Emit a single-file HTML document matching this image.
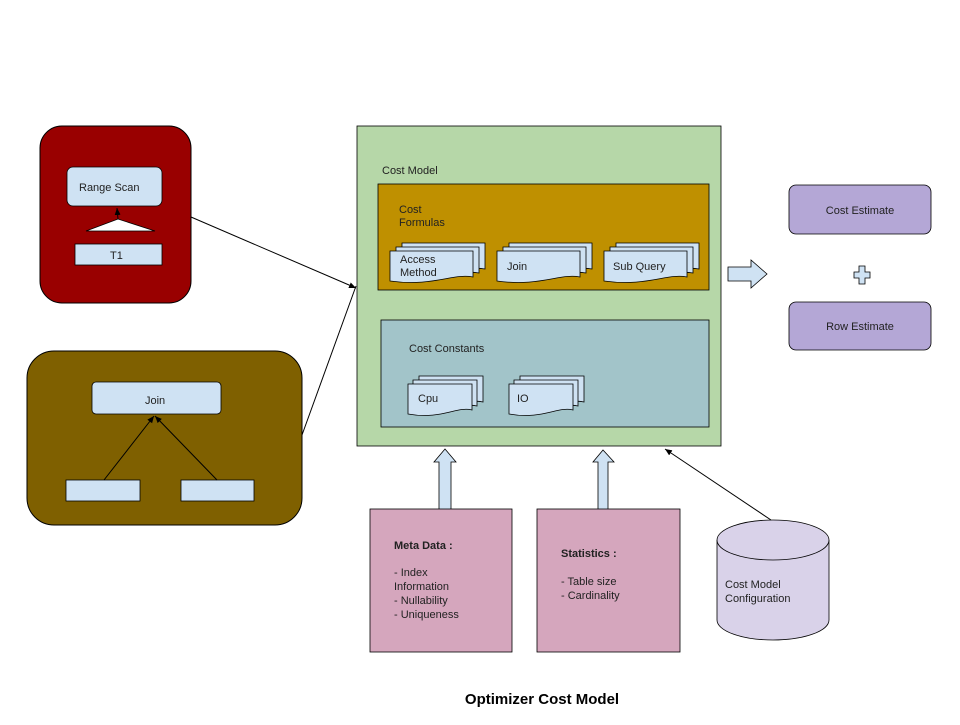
<!DOCTYPE html>
<html><head><meta charset="utf-8"><style>
body{margin:0;background:#fff;width:960px;height:720px;overflow:hidden}
text{font-family:"Liberation Sans",Arial,sans-serif;font-size:11px;fill:#222}
</style></head><body>
<svg width="960" height="720" viewBox="0 0 960 720" xmlns="http://www.w3.org/2000/svg">
<defs>
<marker id="ah" markerWidth="8" markerHeight="8" refX="7" refY="4" orient="auto" markerUnits="userSpaceOnUse">
<path d="M0,1 L7,4 L0,7 Z" fill="#000"/></marker>
<g id="docA">
<path d="M12,0 H95 V26 C75,22 55,34 12,28 Z" fill="#cfe2f3" stroke="#000" stroke-width="0.8"/>
<path d="M6,4 H89 V30 C69,26 49,38 6,32 Z" fill="#cfe2f3" stroke="#000" stroke-width="0.8"/>
<path d="M0,8 H83 V34 C63,30 43,44 0,38 Z" fill="#cfe2f3" stroke="#000" stroke-width="0.8"/>
</g>
<g id="docB">
<path d="M11,0 H75 V26 C60,22 44,34 11,28 Z" fill="#cfe2f3" stroke="#000" stroke-width="0.8"/>
<path d="M5,4 H69 V30 C54,26 38,38 5,32 Z" fill="#cfe2f3" stroke="#000" stroke-width="0.8"/>
<path d="M0,8 H64 V34 C49,30 33,44 0,38 Z" fill="#cfe2f3" stroke="#000" stroke-width="0.8"/>
</g>
</defs>
<rect x="40" y="126" width="151" height="177" rx="22" fill="#990000" stroke="#000" stroke-width="1"/>
<rect x="67" y="167" width="95" height="39" rx="6" fill="#cfe2f3" stroke="#000" stroke-width="0.8"/>
<text x="79" y="191">Range Scan</text>
<polygon points="86,231 155,231 118,219" fill="#fff" stroke="#000" stroke-width="0.8"/>
<line x1="118" y1="219" x2="117" y2="208" stroke="#000" stroke-width="1" marker-end="url(#ah)"/>
<rect x="75" y="244" width="87" height="21" fill="#cfe2f3" stroke="#000" stroke-width="0.8"/>
<text x="110" y="259">T1</text>
<rect x="27" y="351" width="275" height="174" rx="27" fill="#7f6000" stroke="#000" stroke-width="1"/>
<rect x="92" y="382" width="129" height="32" rx="4" fill="#cfe2f3" stroke="#000" stroke-width="0.8"/>
<text x="145" y="404">Join</text>
<rect x="66" y="480" width="74" height="21" fill="#cfe2f3" stroke="#000" stroke-width="0.8"/>
<rect x="181" y="480" width="73" height="21" fill="#cfe2f3" stroke="#000" stroke-width="0.8"/>
<line x1="104" y1="480" x2="154" y2="416" stroke="#000" stroke-width="1" marker-end="url(#ah)"/>
<line x1="217" y1="480" x2="155" y2="416" stroke="#000" stroke-width="1" marker-end="url(#ah)"/>
<line x1="191" y1="217" x2="356" y2="288" stroke="#000" stroke-width="1" marker-end="url(#ah)"/>
<line x1="302" y1="435" x2="356" y2="286" stroke="#000" stroke-width="1"/>
<rect x="357" y="126" width="364" height="320" fill="#b6d7a8" stroke="#000" stroke-width="0.8"/>
<text x="382" y="174">Cost Model</text>
<rect x="378" y="184" width="331" height="106" fill="#bf9000" stroke="#000" stroke-width="0.8"/>
<text x="399" y="213">Cost</text>
<text x="399" y="226">Formulas</text>
<use href="#docA" x="390" y="243"/>
<text x="400" y="263">Access</text><text x="400" y="276">Method</text>
<use href="#docA" x="497" y="243"/>
<text x="507" y="270">Join</text>
<use href="#docA" x="604" y="243"/>
<text x="613" y="270">Sub Query</text>
<rect x="381" y="320" width="328" height="107" fill="#a2c4c9" stroke="#000" stroke-width="0.8"/>
<text x="409" y="352">Cost Constants</text>
<use href="#docB" x="408" y="376"/>
<text x="418" y="402">Cpu</text>
<use href="#docB" x="509" y="376"/>
<text x="517" y="402">IO</text>
<polygon points="728,267 751,267 751,260 767,274 751,288 751,281 728,281" fill="#cfe2f3" stroke="#000" stroke-width="0.8"/>
<rect x="789" y="185" width="142" height="49" rx="7" fill="#b4a7d6" stroke="#000" stroke-width="0.8"/>
<text x="860" y="214" text-anchor="middle">Cost Estimate</text>
<polygon points="859,266 865,266 865,272 870,272 870,278 865,278 865,284 859,284 859,278 854,278 854,272 859,272" fill="#cfe2f3" stroke="#000" stroke-width="0.8"/>
<rect x="789" y="302" width="142" height="48" rx="7" fill="#b4a7d6" stroke="#000" stroke-width="0.8"/>
<text x="860" y="330" text-anchor="middle">Row Estimate</text>
<polygon points="439,511 439,462 434,462 445,449 456,462 451,462 451,511" fill="#cfe2f3" stroke="#000" stroke-width="0.8"/>
<polygon points="598,511 598,462 593,462 603,450 614,462 608,462 608,511" fill="#cfe2f3" stroke="#000" stroke-width="0.8"/>
<rect x="370" y="509" width="142" height="143" fill="#d5a6bd" stroke="#000" stroke-width="0.8"/>
<text x="394" y="549" font-weight="bold">Meta Data :</text>
<text x="394" y="576">- Index</text>
<text x="394" y="590">Information</text>
<text x="394" y="604">- Nullability</text>
<text x="394" y="618">- Uniqueness</text>
<rect x="537" y="509" width="143" height="143" fill="#d5a6bd" stroke="#000" stroke-width="0.8"/>
<text x="561" y="557" font-weight="bold">Statistics :</text>
<text x="561" y="585">- Table size</text>
<text x="561" y="599">- Cardinality</text>
<path d="M717,540 V620 A56,20 0 0 0 829,620 V540" fill="#d9d2e9" stroke="#000" stroke-width="0.8"/>
<ellipse cx="773" cy="540" rx="56" ry="20" fill="#d9d2e9" stroke="#000" stroke-width="0.8"/>
<text x="725" y="588">Cost Model</text>
<text x="725" y="602">Configuration</text>
<line x1="771" y1="520" x2="665" y2="449" stroke="#000" stroke-width="1" marker-end="url(#ah)"/>
<text x="542" y="704" text-anchor="middle" font-weight="bold" style="font-size:15px;fill:#000">Optimizer Cost Model</text>
</svg>
</body></html>
